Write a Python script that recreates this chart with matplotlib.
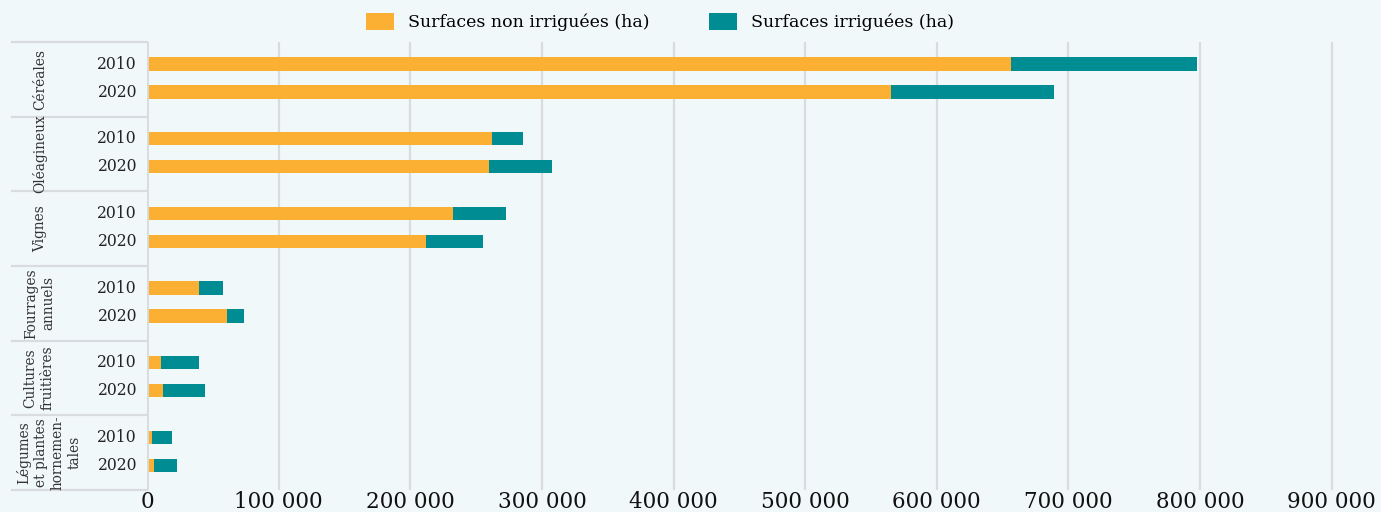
import numpy as np
import matplotlib
matplotlib.use("Agg")
import matplotlib.pyplot as plt
import matplotlib.transforms as mtransforms
from matplotlib.patches import Patch

# Surfaces par culture (ha), 2010 et 2020
categories = ["Céréales", "Oléagineux", "Vignes", "Fourrages\nannuels",
              "Cultures\nfruitières", "Légumes\net plantes\nhornemen-\ntales"]
years = ["2010", "2020"]
non_irrigue = [[656700, 565600], [262200, 259900], [232800, 211800],
               [39200, 60500], [10900, 12400], [4000, 5300]]
irrigue = [[141000, 123800], [23500, 47850], [40200, 43800],
           [18500, 13400], [28300, 31400], [14700, 17200]]
xticks = [0, 100000, 200000, 300000, 400000, 500000, 600000, 700000, 800000, 900000]

ORANGE = "#fbb034"
TEAL = "#008c93"
BG = "#f1f8fa"
GRID = "#d8dcdf"

W, H = 1381, 512
fig = plt.figure(figsize=(W / 100, H / 100), dpi=100, facecolor=BG)
ax = fig.add_axes([147 / W, 22 / H, (W - 147) / W, 448 / H])
ax.set_facecolor(BG)

n = len(categories)
offsets = [0.295, 0.67]
bar_h = 0.175
for g in range(n):
    for k in range(2):
        y = g + offsets[k]
        ax.barh(y, non_irrigue[g][k], height=bar_h, color=ORANGE, zorder=3)
        ax.barh(y, irrigue[g][k], left=non_irrigue[g][k], height=bar_h,
                color=TEAL, zorder=3)

ax.set_ylim(n, 0)
ax.set_xlim(0, 937500)
ax.set_xticks(xticks)
ax.set_xticklabels([f"{v:,}".replace(",", " ") for v in xticks],
                   fontsize=15.5, family="DejaVu Serif", color="#111111")
ax.tick_params(axis="x", length=0, pad=1)
ax.set_yticks([])
ax.grid(axis="x", color=GRID, linewidth=1.6, zorder=0)
for s in ax.spines.values():
    s.set_visible(False)
ax.axvline(0, color=GRID, linewidth=2, zorder=4)

# Étiquettes à gauche : séparateurs, années, cultures
tr = mtransforms.blended_transform_factory(ax.transAxes, ax.transData)
px = lambda x: (x - 147) / (W - 147)
for g in range(n + 1):
    ax.plot([px(12), 0], [g, g], transform=tr, color=GRID, linewidth=1.6,
            clip_on=False, zorder=2)
cat_centers = [40, 40, 40, 40, 39, 49]
for g in range(n):
    for k in range(2):
        ax.text(px(137), g + offsets[k], years[k], transform=tr, ha="right",
                va="center", fontsize=12.5, family="DejaVu Serif",
                fontstretch="condensed", color="#222222")
    ax.text(px(cat_centers[g]), g + 0.5, categories[g], transform=tr,
            rotation=90, ha="center", va="center", fontsize=11,
            linespacing=1.25, family="DejaVu Serif", fontstretch="condensed",
            color="#333333", multialignment="center")

handles = [Patch(facecolor=ORANGE, edgecolor="none", label="Surfaces non irriguées (ha)"),
           Patch(facecolor=TEAL, edgecolor="none", label="Surfaces irriguées (ha)")]
fig.legend(handles=handles, loc="center", bbox_to_anchor=(660 / W, 1 - 22 / H),
           ncol=2, frameon=False, handlelength=1.65, handleheight=1.1,
           columnspacing=3.4, handletextpad=0.8,
           prop={"family": "DejaVu Serif", "size": 12.5})

fig.savefig("out.png", dpi=100, facecolor=BG)
